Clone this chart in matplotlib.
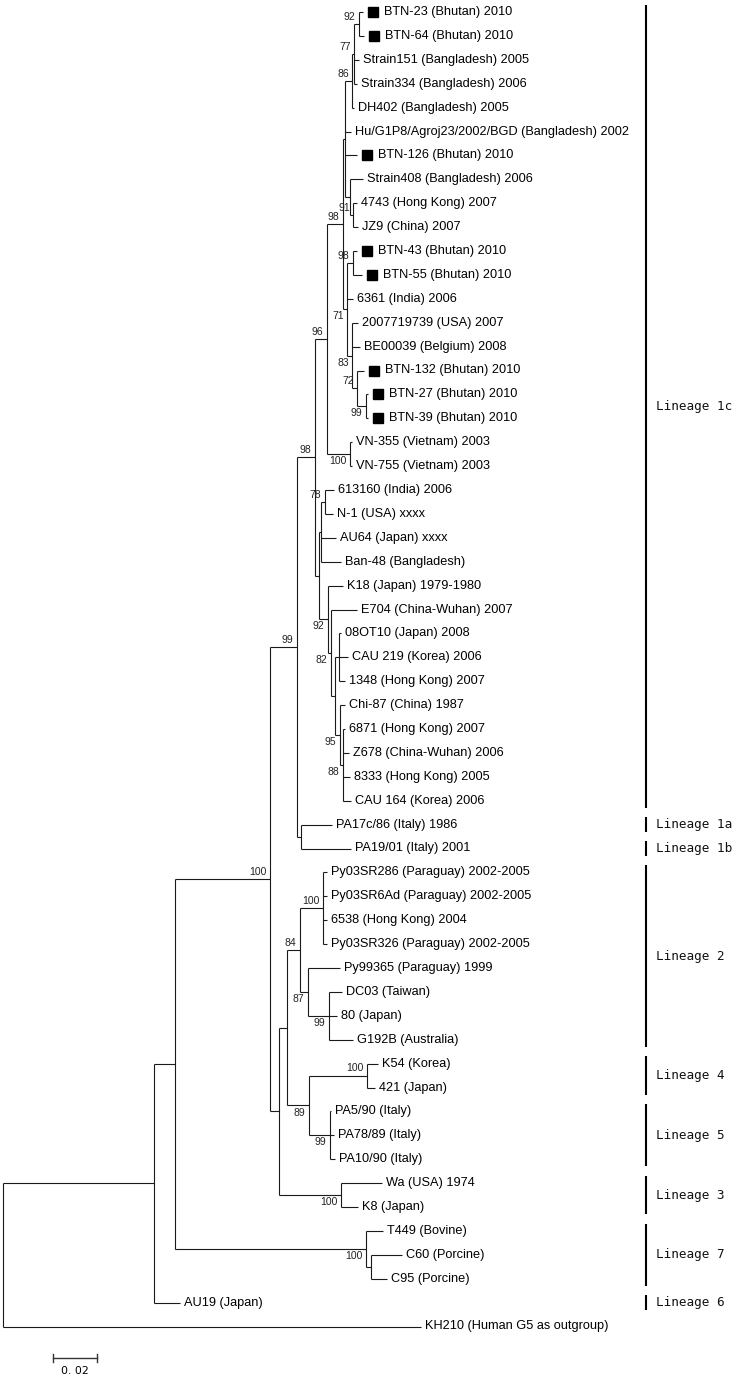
import matplotlib.pyplot as plt
from matplotlib.transforms import offset_copy

# internal nodes: parent and branch length (substitutions/site), bootstrap %
inner = ['root', 'A', 'B', 'C', 'L7', 'D', 'E', 'F', 'G', 'H', 'I', 'J', 'VN',
         'U', 'L', 'n86', 'n77', 'n92', 'K', 'n91', 'n98b', 'n83', 'n72', 'n99c',
         'M', 'n78', 'N', 'P', 'Q', 'R', 'S', 'T', 'V', 'WaK8', 'L2', 'n89',
         'n100', 'n87', 'n99d', 'L4', 'L5', 'C6095']
inner_parent = [None, 'root', 'A', 'B', 'B', 'C', 'C', 'D', 'D', 'F', 'F', 'H', 'H',
                'J', 'J', 'U', 'n86', 'n77', 'U', 'K', 'L', 'L', 'n83', 'n72',
                'I', 'M', 'I', 'N', 'P', 'Q', 'Q', 'S', 'E', 'E', 'V', 'V',
                'L2', 'L2', 'n87', 'n89', 'n89', 'L7']
inner_blen = [0, 0.0686, 0.0095, 0.0432, 0.0868, 0.0123, 0.0041, 0.0082, 0.0018, 0.0055, 0.0018, 0.0073, 0.0105,
              0.0009, 0.0018, 0.0032, 0.0009, 0.0023, 0.0023, 0.0014, 0.0027, 0.0023, 0.0023, 0.0041,
              0.0009, 0.0018, 0.0041, 0.0014, 0.0018, 0.0018, 0.0023, 0.0014, 0.0036, 0.0282, 0.0059, 0.0100,
              0.0105, 0.0036, 0.0095, 0.0264, 0.0095, 0.0023]
inner_support = [None, None, None, 100, 100, 99, None, 98, None, 96, None, 98, 100,
                 None, 71, 86, 77, 92, None, 91, 98, 83, 72, 99,
                 None, 78, 92, 82, None, None, 95, 88, None, 100, 84, 89,
                 100, 87, 99, 100, 99, None]

# leaves, top to bottom
leaves = ['BTN-23 (Bhutan) 2010', 'BTN-64 (Bhutan) 2010', 'Strain151 (Bangladesh) 2005',
          'Strain334 (Bangladesh) 2006', 'DH402 (Bangladesh) 2005',
          'Hu/G1P8/Agroj23/2002/BGD (Bangladesh) 2002', 'BTN-126 (Bhutan) 2010',
          'Strain408 (Bangladesh) 2006', '4743 (Hong Kong) 2007', 'JZ9 (China) 2007',
          'BTN-43 (Bhutan) 2010', 'BTN-55 (Bhutan) 2010', '6361 (India) 2006',
          '2007719739 (USA) 2007', 'BE00039 (Belgium) 2008', 'BTN-132 (Bhutan) 2010',
          'BTN-27 (Bhutan) 2010', 'BTN-39 (Bhutan) 2010', 'VN-355 (Vietnam) 2003',
          'VN-755 (Vietnam) 2003', '613160 (India) 2006', 'N-1 (USA) xxxx',
          'AU64 (Japan) xxxx', 'Ban-48 (Bangladesh)', 'K18 (Japan) 1979-1980',
          'E704 (China-Wuhan) 2007', '08OT10 (Japan) 2008', 'CAU 219 (Korea) 2006',
          '1348 (Hong Kong) 2007', 'Chi-87 (China) 1987', '6871 (Hong Kong) 2007',
          'Z678 (China-Wuhan) 2006', '8333 (Hong Kong) 2005', 'CAU 164 (Korea) 2006',
          'PA17c/86 (Italy) 1986', 'PA19/01 (Italy) 2001',
          'Py03SR286 (Paraguay) 2002-2005', 'Py03SR6Ad (Paraguay) 2002-2005',
          '6538 (Hong Kong) 2004', 'Py03SR326 (Paraguay) 2002-2005',
          'Py99365 (Paraguay) 1999', 'DC03 (Taiwan)', '80 (Japan)', 'G192B (Australia)',
          'K54 (Korea)', '421 (Japan)', 'PA5/90 (Italy)', 'PA78/89 (Italy)', 'PA10/90 (Italy)',
          'Wa (USA) 1974', 'K8 (Japan)', 'T449 (Bovine)', 'C60 (Porcine)', 'C95 (Porcine)',
          'AU19 (Japan)', 'KH210 (Human G5 as outgroup)']
leaf_parent = ['n92', 'n92', 'n77', 'n77', 'n86', 'U', 'U', 'K', 'n91', 'n91',
               'n98b', 'n98b', 'L', 'n83', 'n83', 'n72', 'n99c', 'n99c', 'VN', 'VN',
               'n78', 'n78', 'M', 'M', 'N', 'P', 'R', 'R', 'R', 'S', 'T', 'T', 'T', 'T',
               'G', 'G', 'n100', 'n100', 'n100', 'n100', 'n87', 'n99d', 'n99d', 'n99d',
               'L4', 'L4', 'L5', 'L5', 'L5', 'WaK8', 'WaK8', 'L7', 'C6095', 'C6095',
               'A', 'root']
leaf_blen = [0.0018, 0.0023, 0.0023, 0.0014, 0.0009, 0.0027, 0.0055, 0.0059, 0.0018, 0.0023,
             0.0018, 0.0041, 0.0027, 0.0027, 0.0036, 0.0032, 0.0009, 0.0009, 0.0009, 0.0009,
             0.0041, 0.0036, 0.0068, 0.0091, 0.0068, 0.0118, 0.0009, 0.0041, 0.0027, 0.0023,
             0.0009, 0.0027, 0.0032, 0.0036, 0.0141, 0.0227, 0.0018, 0.0018, 0.0018, 0.0018,
             0.0145, 0.0059, 0.0036, 0.0109, 0.0050, 0.0036, 0.0005, 0.0018, 0.0023,
             0.0186, 0.0077, 0.0077, 0.0141, 0.0073, 0.0118, 0.1900]

lineages = ['Lineage 1c', 'Lineage 1a', 'Lineage 1b', 'Lineage 2', 'Lineage 4',
            'Lineage 5', 'Lineage 3', 'Lineage 7', 'Lineage 6']
lineage_first = [0, 34, 35, 36, 44, 46, 49, 51, 54]
lineage_last = [33, 34, 35, 43, 45, 48, 50, 53, 54]

# ---- tree geometry ----
parent = dict(zip(inner, inner_parent))
parent.update(zip(leaves, leaf_parent))
blen = dict(zip(inner, inner_blen))
blen.update(zip(leaves, leaf_blen))
children = {n: [] for n in inner}
for n in inner[1:] + leaves:
    children[parent[n]].append(n)

depth = {}
def get_depth(n):
    if n not in depth:
        depth[n] = 0.0 if parent[n] is None else get_depth(parent[n]) + blen[n]
    return depth[n]

ypos = {name: i for i, name in enumerate(leaves)}
def get_y(n):
    if n not in ypos:
        ys = [get_y(c) for c in children[n]]
        ypos[n] = (min(ys) + max(ys)) / 2
    return ypos[n]

for n in inner + leaves:
    get_depth(n)
    get_y(n)

fig = plt.figure(figsize=(7.51, 13.79), dpi=100)
ax = fig.add_axes([0, 0, 1, 1])
lc = '#1a1a1a'

for n in inner[1:] + leaves:
    ax.plot([depth[parent[n]], depth[n]], [ypos[n], ypos[n]], color=lc, lw=0.8,
            solid_capstyle='butt')
for n in inner:
    ys = [ypos[c] for c in children[n]]
    ax.plot([depth[n], depth[n]], [min(ys), max(ys)], color=lc, lw=0.8,
            solid_capstyle='butt')

# leaf labels, study strains marked with a black square
sq = offset_copy(ax.transData, fig=fig, x=7.2, y=0, units='points')
for name in leaves:
    marked = name.startswith('BTN-')
    if marked:
        ax.plot(depth[name], ypos[name], 's', ms=7.2, color='black', transform=sq)
    ax.annotate(name, (depth[name], ypos[name]), xytext=(15 if marked else 3, 0),
                textcoords='offset points', ha='left', va='center',
                fontsize=9.2, family=['Liberation Sans', 'DejaVu Sans'])

# bootstrap values
below = {'L', 'n83', 'n99c', 'VN', 'N', 'P', 'S', 'T', 'n87', 'n99d', 'n89', 'L5',
         'WaK8', 'L7'}
for n, s in zip(inner, inner_support):
    if s is None:
        continue
    dy = -1.5 if n in below else 1.5
    ax.annotate(str(s), (depth[n], ypos[n]), xytext=(-2.5, dy),
                textcoords='offset points', ha='right',
                va='top' if n in below else 'bottom',
                fontsize=7.5, family='Liberation Sans', color='#222222')

# lineage brackets
bar_x = 0.2923
for name, a, b in zip(lineages, lineage_first, lineage_last):
    ax.plot([bar_x, bar_x], [a - 0.3, b + 0.3], color='black', lw=1.5,
            solid_capstyle='butt')
    ax.text(bar_x + 0.0045, (a + b) / 2, name, ha='left', va='center',
            fontsize=9.1, family='DejaVu Sans Mono', color='#111111')

# scale bar
sb_x, sb_y = 0.0226, 56.32
ax.plot([sb_x, sb_x + 0.02], [sb_y, sb_y], color='#333333', lw=1.0)
for xx in (sb_x, sb_x + 0.02):
    ax.plot([xx, xx], [sb_y - 0.17, sb_y + 0.17], color='#333333', lw=1.0)
ax.text(sb_x + 0.01, sb_y + 0.56, '0. 02', ha='center', va='center',
        fontsize=7.8, family='DejaVu Sans')

ax.set_xlim(-3 / 2200, 748 / 2200)
ax.set_ylim((1379 - 12) / 23.9, -12 / 23.9)
ax.axis('off')

fig.savefig('out.png', dpi=100, facecolor='white')
